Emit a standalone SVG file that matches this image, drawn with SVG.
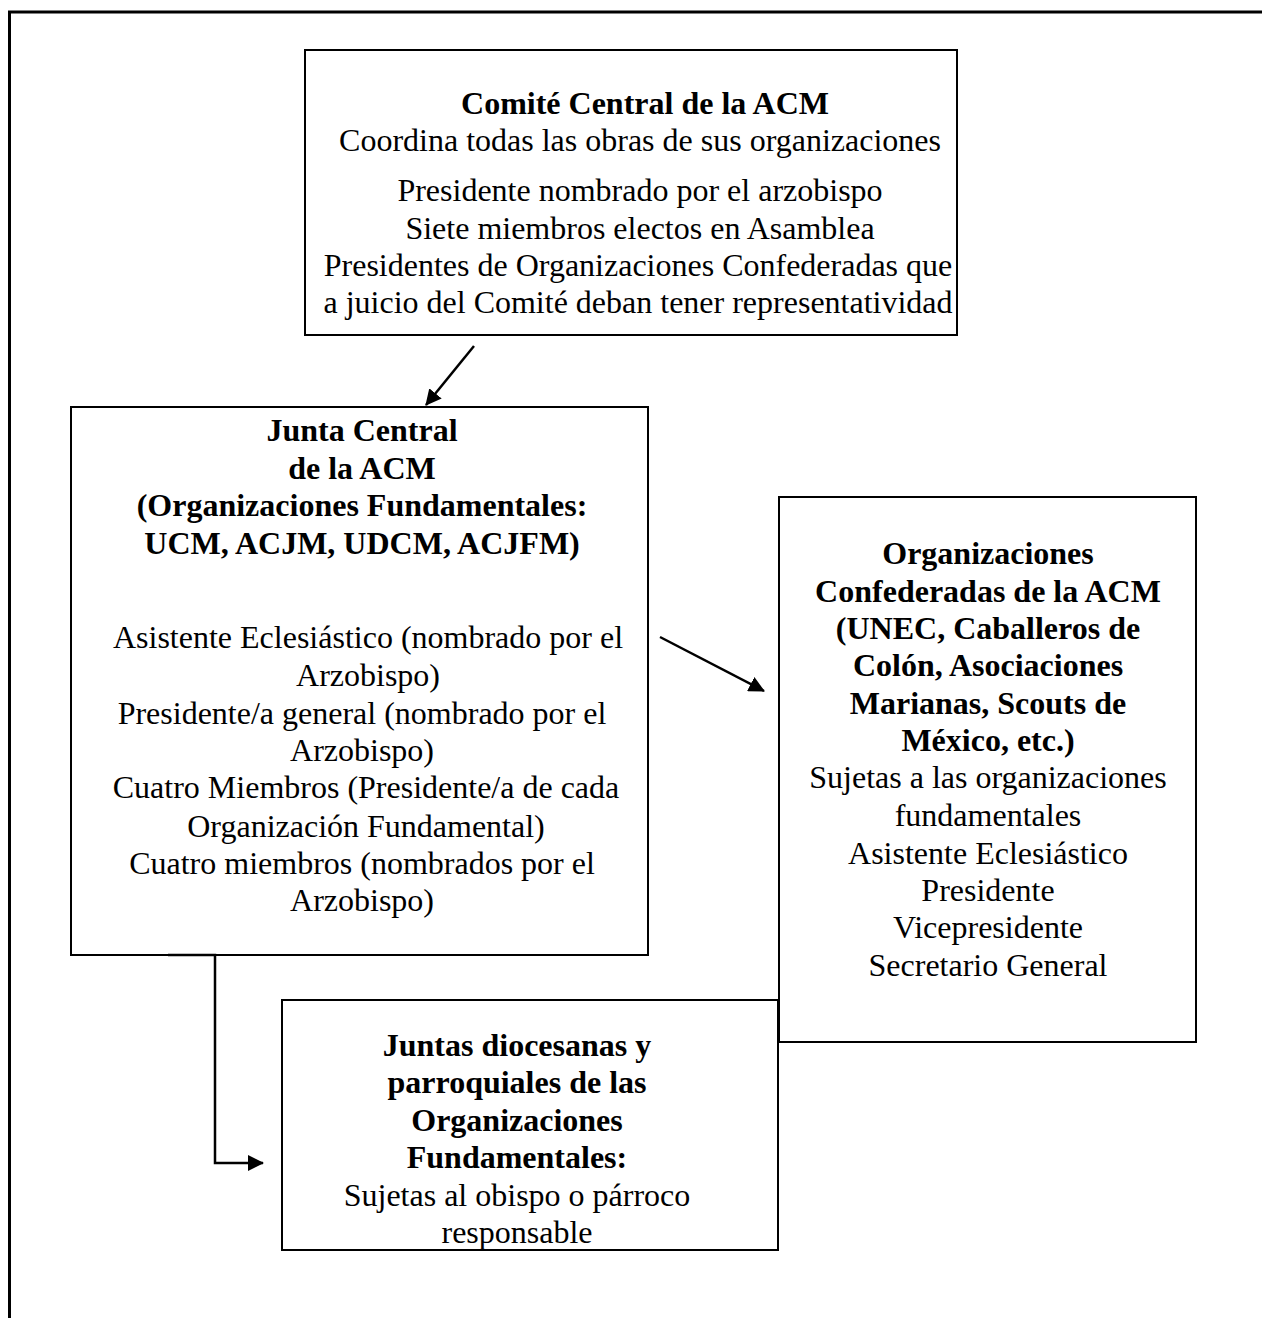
<svg xmlns="http://www.w3.org/2000/svg" width="1262" height="1318" viewBox="0 0 1262 1318">
<defs>
<style>
.box{fill:#fff;stroke:#000;stroke-width:2}
.t{font-family:"Liberation Serif","Times New Roman",serif;font-size:32px;fill:#000;text-anchor:middle}
.b{font-weight:bold}
.c{fill:none;stroke:#000;stroke-width:2.5}
</style>
<marker id="ahL" markerWidth="16" markerHeight="16" refX="15" refY="8" orient="auto" markerUnits="userSpaceOnUse" viewBox="0 0 16 16">
<path d="M0,0 L16,8 L0,16 Z" fill="#000"/>
</marker>
</defs>
<rect width="1262" height="1318" fill="#fff"/>
<g id="frame">
<path d="M8,12 H1262 M9.5,11 V1318" fill="none" stroke="#000" stroke-width="3"/>
</g>
<g id="comite">
<rect class="box" x="305" y="50" width="652" height="285"/>
<text class="t b" x="645" y="114">Comité Central de la ACM</text>
<text class="t" x="640" y="151">Coordina todas las obras de sus organizaciones</text>
<text class="t" x="640" y="201">Presidente nombrado por el arzobispo</text>
<text class="t" x="640" y="239">Siete miembros electos en Asamblea</text>
<text class="t" x="638" y="276">Presidentes de Organizaciones Confederadas que</text>
<text class="t" x="638" y="313">a juicio del Comité deban tener representatividad</text>
</g>
<g id="junta">
<rect class="box" x="71" y="407" width="577" height="548"/>
<text class="t b" x="362" y="441">Junta Central</text>
<text class="t b" x="362" y="479">de la ACM</text>
<text class="t b" x="362" y="516">(Organizaciones Fundamentales:</text>
<text class="t b" x="362" y="554">UCM, ACJM, UDCM, ACJFM)</text>
<text class="t" x="368" y="648">Asistente Eclesiástico (nombrado por el</text>
<text class="t" x="368" y="686">Arzobispo)</text>
<text class="t" x="362" y="724">Presidente/a general (nombrado por el</text>
<text class="t" x="362" y="761">Arzobispo)</text>
<text class="t" x="366" y="798">Cuatro Miembros (Presidente/a de cada</text>
<text class="t" x="366" y="837">Organización Fundamental)</text>
<text class="t" x="362" y="874">Cuatro miembros (nombrados por el</text>
<text class="t" x="362" y="911">Arzobispo)</text>
</g>
<g id="confederadas">
<rect class="box" x="779" y="497" width="417" height="545"/>
<text class="t b" x="988" y="564">Organizaciones</text>
<text class="t b" x="988" y="602">Confederadas de la ACM</text>
<text class="t b" x="988" y="639">(UNEC, Caballeros de</text>
<text class="t b" x="988" y="676">Colón, Asociaciones</text>
<text class="t b" x="988" y="714">Marianas, Scouts de</text>
<text class="t b" x="988" y="751">México, etc.)</text>
<text class="t" x="988" y="788">Sujetas a las organizaciones</text>
<text class="t" x="988" y="826">fundamentales</text>
<text class="t" x="988" y="864">Asistente Eclesiástico</text>
<text class="t" x="988" y="901">Presidente</text>
<text class="t" x="988" y="938">Vicepresidente</text>
<text class="t" x="988" y="976">Secretario General</text>
</g>
<g id="diocesanas">
<rect class="box" x="282" y="1000" width="496" height="250"/>
<text class="t b" x="517" y="1056">Juntas diocesanas y</text>
<text class="t b" x="517" y="1093">parroquiales de las</text>
<text class="t b" x="517" y="1131">Organizaciones</text>
<text class="t b" x="517" y="1168">Fundamentales:</text>
<text class="t" x="517" y="1206">Sujetas al obispo o párroco</text>
<text class="t" x="517" y="1243">responsable</text>
</g>
<g id="connectors">
<path class="c" d="M474,346 L426,405" marker-end="url(#ahL)"/>
<path class="c" d="M660,637 L764,691" marker-end="url(#ahL)"/>
<path class="c" d="M168,955 H215 V1163 H263" marker-end="url(#ahL)"/>
</g>
</svg>
